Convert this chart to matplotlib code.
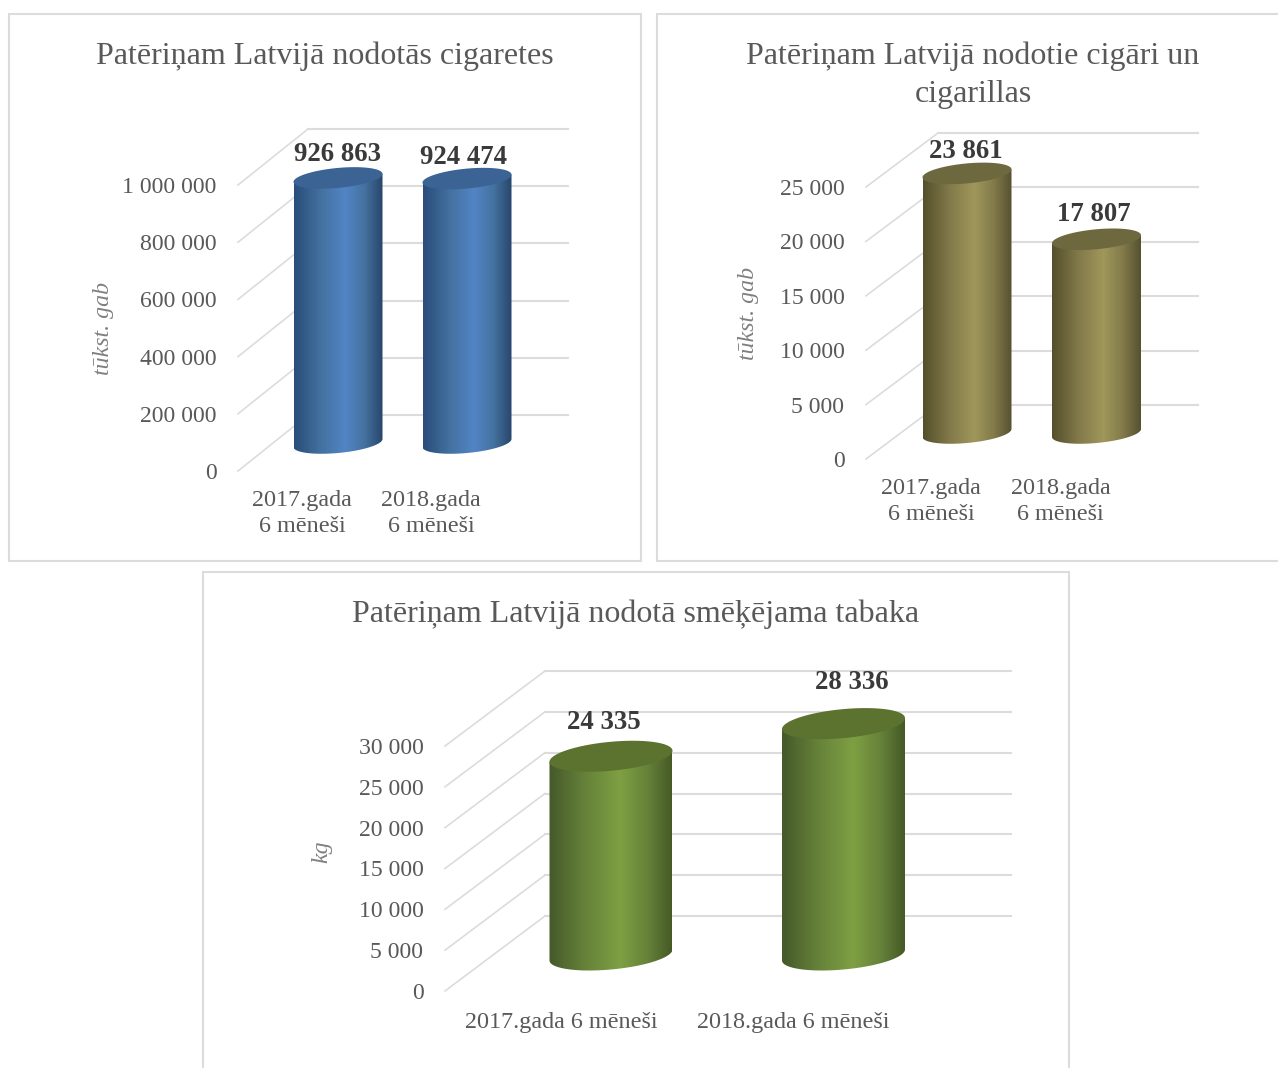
import numpy as np
import matplotlib
matplotlib.use('Agg')
import matplotlib.pyplot as plt
from matplotlib.colors import LinearSegmentedColormap
from matplotlib.patches import Polygon, Rectangle

plt.rcParams['font.family'] = ['Liberation Serif', 'DejaVu Serif']

W, H = 1278, 1068
GRAY = '#595959'
GRID = '#dcdcdc'

# data
cigaretes = [926863, 924474]
cigari = [23861, 17807]
tabaka = [24335, 28336]

cats_two_lines = ['2017.gada\n6 mēneši', '2018.gada\n6 mēneši']
cats_one_line = ['2017.gada 6 mēneši', '2018.gada 6 mēneši']

ticks_cigaretes = [0, 200000, 400000, 600000, 800000, 1000000]
ticks_cigari = [0, 5000, 10000, 15000, 20000, 25000]
ticks_tabaka = [0, 5000, 10000, 15000, 20000, 25000, 30000]


def fmt(v):
    return f'{v:,}'.replace(',', ' ')


def cylinder(ax, x, val, base, a, b, tilt, colors):
    # a, b, tilt, base are already in data units
    t = np.linspace(0, np.pi, 60)
    low_x = x - a * np.cos(t)
    low_y = base - b * np.sin(t) - tilt * np.cos(t)
    top = base + val
    body = np.column_stack([
        np.r_[low_x, x + a, x - a],
        np.r_[low_y, top + tilt, top - tilt],
    ])
    cmap = LinearSegmentedColormap.from_list(
        'c', [(0, colors[0]), (0.3, colors[1]), (0.58, colors[2]), (0.8, colors[1]), (1, colors[3])])
    grad = np.linspace(0, 1, 128).reshape(1, -1)
    im = ax.imshow(grad, cmap=cmap, aspect='auto', zorder=3,
                   extent=(x - a, x + a, base - b - abs(tilt), top + tilt))
    patch = Polygon(body, closed=True, fc='none', ec='none', transform=ax.transData)
    ax.add_patch(patch)
    im.set_clip_path(patch)
    t2 = np.linspace(0, 2 * np.pi, 120)
    ax.add_patch(Polygon(np.column_stack([
        x - a * np.cos(t2),
        top - b * np.sin(t2) - tilt * np.cos(t2),
    ]), closed=True, fc=colors[4], ec='none', zorder=4))


def chart(vals, cats, ticks, ylabel, x0, x1, y0, px_per, dx, dy, cx, a, b, tilt, base_px,
          colors, lab_off, ylab_pos, cat_shift, top_value, xpad):
    ytop = y0 - top_value * px_per - dy
    ax = fig.add_axes([x0 / W, 1 - y0 / H, (x1 - x0) / W, (y0 - ytop) / H])
    ax.patch.set_alpha(0)
    sp = cx[1] - cx[0]
    xmin = -(cx[0] - x0) / sp
    xmax = 1 + (x1 - cx[1]) / sp
    ymax = (y0 - ytop) / px_per
    dx_d = dx / sp
    dy_d = dy / px_per

    for tv in ticks:
        ax.plot([xmin, xmin + dx_d], [tv, tv + dy_d], color=GRID, lw=1.2, zorder=1, clip_on=False)
        ax.plot([xmin + dx_d, xmax], [tv + dy_d, tv + dy_d], color=GRID, lw=1.5, zorder=1, clip_on=False)

    for i, v in enumerate(vals):
        cylinder(ax, i, v, base_px / px_per, a / sp, b / px_per, tilt / px_per, colors)
        ax.annotate(fmt(v), (i, base_px / px_per + v), xytext=(lab_off[i][0], lab_off[i][1]),
                    textcoords='offset pixels', ha='center', va='center',
                    fontsize=19.3, fontweight='bold', color='#3a3a3a', zorder=5)

    ax.set_xlim(xmin, xmax)
    ax.set_ylim(0, ymax)
    for s in ax.spines.values():
        s.set_visible(False)
    ax.set_yticks(ticks)
    ax.set_yticklabels([fmt(t) for t in ticks], fontsize=17.1, color=GRAY)
    ax.set_xticks([i + cat_shift / sp for i in range(len(vals))])
    ax.set_xticklabels(cats, fontsize=17.4, color=GRAY, linespacing=1.3)
    ax.tick_params(axis='y', length=0, pad=15.5)
    ax.tick_params(axis='x', length=0, pad=xpad)
    ax.set_ylabel(ylabel, fontsize=17.2, style='italic', color='#7f7f7f')
    ax.yaxis.set_label_coords((ylab_pos[0] - x0) / (x1 - x0), (y0 - ylab_pos[1]) / (y0 - ytop))


def panel(x1, y1, x2, y2):
    fig.add_artist(Rectangle((x1 / W, 1 - y2 / H), (x2 - x1) / W, (y2 - y1) / H,
                             transform=fig.transFigure, fc='white', ec=GRID, lw=1.5, zorder=-1))


def title(s, x, y):
    fig.text(x / W, 1 - y / H, s, ha='center', va='center', fontsize=23, color=GRAY, linespacing=1.4)


fig = plt.figure(figsize=(W / 100, H / 100), dpi=100)

panel(9, 14, 641, 561)
panel(657, 14, 1290, 561)
panel(203, 572, 1069, 1090)

title('Patēriņam Latvijā nodotās cigaretes', 325, 56)
title('Patēriņam Latvijā nodotie cigāri un\ncigarillas', 973, 75)
title('Patēriņam Latvijā nodotā smēķējama tabaka', 636, 614)

blue = ['#2a4d7a', '#44719f', '#5285c6', '#28466c', '#3b6495']
olive = ['#55502c', '#827a4a', '#a0975b', '#565130', '#6e683f']
green = ['#46592a', '#66833a', '#7f9f43', '#465a26', '#5b732f']

chart(cigaretes, cats_two_lines, ticks_cigaretes, 'tūkst. gab', 238, 568, 471, 286 / 1000000,
      70, 56, [338, 467], 44.5, 10, 4, 28, blue, [(-1, 23), (-4, 21)], (114, 328), -36, 1000000, 14)
chart(cigari, cats_two_lines, ticks_cigari, 'tūkst. gab', 866, 1198, 459, 272 / 25000,
      72, 54, [967, 1096.5], 44.5, 10, 4, 26, olive, [(-1, 22), (-3, 25)], (759, 313), -36, 25000, 14)
chart(tabaka, cats_one_line, ticks_tabaka, 'kg', 445, 1011, 991, 245 / 30000,
      100, 75, [611, 843.5], 61.5, 14.5, 5.5, 36, green, [(-7, 34), (8, 41)], (332, 852), -50, 30000, 15)

fig.savefig('out.png', dpi=100)
